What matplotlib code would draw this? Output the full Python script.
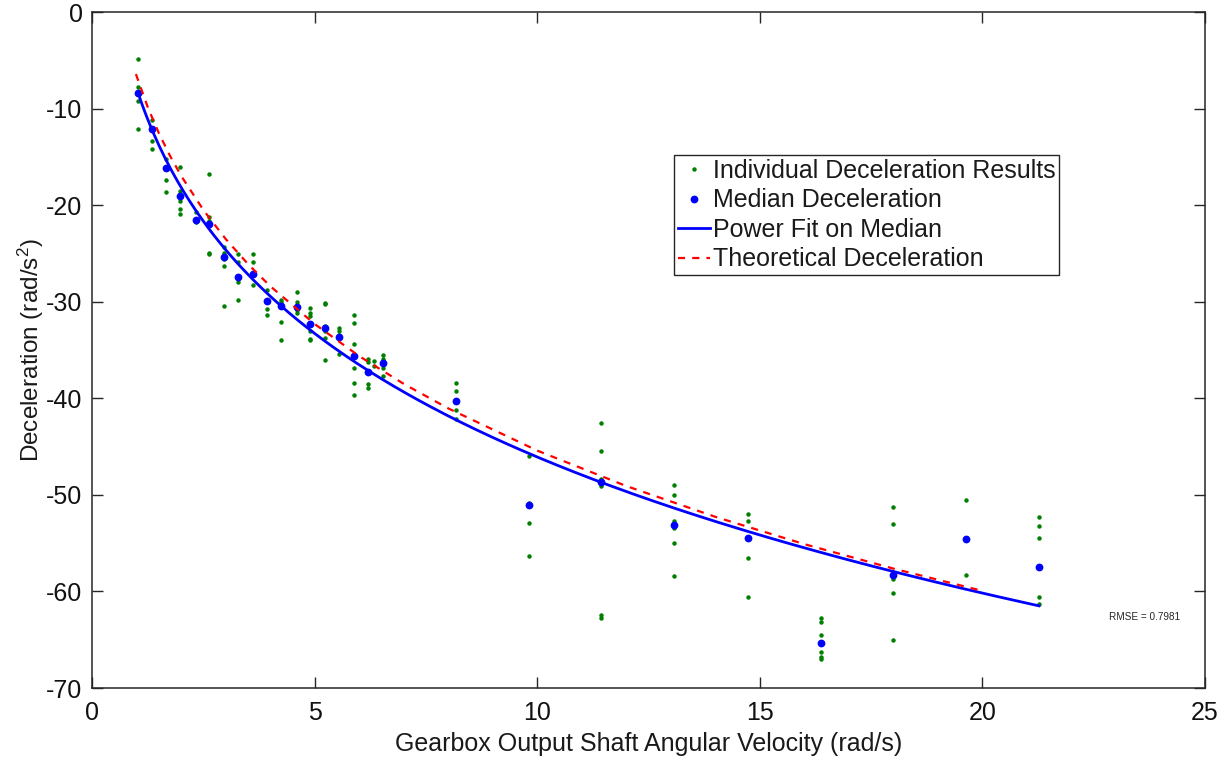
import numpy as np
import matplotlib
matplotlib.use("Agg")
import matplotlib.pyplot as plt

plt.rcParams['font.family'] = ['Liberation Sans', 'DejaVu Sans']
plt.rcParams['mathtext.fontset'] = 'custom'
plt.rcParams['mathtext.rm'] = 'Liberation Sans'
plt.rcParams['mathtext.it'] = 'Liberation Sans'
plt.rcParams['axes.unicode_minus'] = False

# ---- data ----
speed = [1.03, 1.34, 1.66, 1.98, 2.32, 2.63, 2.97, 3.28, 3.60, 3.93, 4.25, 4.59,
         4.90, 5.22, 5.55, 5.87, 6.20, 6.54, 8.18, 9.81, 11.44, 13.08, 14.73,
         16.37, 17.99, 19.63, 21.27]

median_decel = [-8.4, -12.1, -16.1, -19.05, -21.5, -21.9, -25.4, -27.4, -27.1,
                -29.9, -30.4, -30.5, -32.3, -32.7, -33.6, -35.6, -37.3, -36.3,
                -40.3, -51.0, -48.7, -53.1, -54.5, -65.3, -58.3, -54.6, -57.5]

individual_x = (
    [1.03] * 4 + [1.34] * 4 + [1.66] * 4 + [1.98] * 5 + [2.32] * 3 + [2.63] * 5 +
    [2.97] * 5 + [3.28] * 4 + [3.60] * 4 + [3.93] * 4 + [4.25] * 4 + [4.59] * 4 +
    [4.90] * 6 + [5.22] * 6 + [5.55] * 4 + [5.87] * 6 + [6.20] * 4 + [6.34] * 2 +
    [6.54] * 4 + [8.18] * 4 + [9.81] * 4 + [11.44] * 6 + [13.08] * 6 + [14.73] * 4 +
    [16.37] * 6 + [17.99] * 6 + [19.63] * 2 + [21.27] * 5
)
individual_y = [
    -4.8, -7.7, -9.2, -12.1,
    -11.2, -12.0, -13.3, -14.2,
    -15.2, -16.1, -17.4, -18.6,
    -16.0, -18.5, -19.6, -20.4, -20.9,
    -20.7, -21.4, -21.7,
    -16.8, -21.2, -21.6, -24.9, -25.0,
    -24.3, -24.9, -25.6, -26.3, -30.4,
    -25.0, -25.9, -27.9, -29.8,
    -25.0, -25.9, -27.0, -28.3,
    -28.8, -29.9, -30.7, -31.4,
    -29.8, -30.0, -32.1, -34.0,
    -29.0, -30.0, -30.8, -31.1,
    -30.6, -31.1, -31.5, -33.0, -33.8, -33.9,
    -30.1, -30.2, -32.5, -33.0, -33.7, -36.0,
    -32.7, -33.0, -33.4, -35.4,
    -31.4, -32.2, -34.4, -36.9, -38.4, -39.6,
    -35.9, -36.2, -38.5, -38.9,
    -36.1, -36.6,
    -35.5, -35.9, -36.8, -37.7,
    -38.4, -39.2, -41.2, -42.1,
    -46.0, -50.8, -52.9, -56.3,
    -42.5, -45.4, -48.4, -49.1, -62.4, -62.7,
    -49.0, -50.0, -52.7, -53.4, -55.0, -58.4,
    -52.0, -52.7, -56.5, -60.6,
    -62.8, -63.2, -64.5, -66.3, -66.8, -67.0,
    -51.2, -53.0, -58.0, -58.7, -60.2, -65.0,
    -50.5, -58.3,
    -52.3, -53.2, -54.5, -60.6, -61.3,
]

# power fit on median: y = a * x^b + c
fit_a, fit_b, fit_c = -100.2, 0.14, 92.24

theory_x = [0.98, 1.25, 1.5, 1.75, 2.0, 2.5, 3.0, 3.5, 4.0, 5.0, 6.0, 7.0, 8.0,
            10.0, 12.0, 14.0, 16.0, 18.0, 20.0]
theory_y = [-6.40, -9.88, -12.57, -14.90, -16.97, -20.51, -23.50, -26.09, -28.38,
            -32.31, -35.63, -38.50, -41.04, -45.41, -49.08, -52.27, -55.10, -57.63,
            -59.94]

rmse_text = "RMSE = 0.7981"

# ---- figure ----
W, H = 1227, 757
fig = plt.figure(figsize=(W / 100, H / 100), dpi=100)
ax = fig.add_axes([92.3 / W, 1 - 688 / H, (1205 - 92.3) / W, (688 - 12.3) / H])

ax.plot(individual_x, individual_y, linestyle='none', marker='o', markersize=2.2,
        color='#008000', label='Individual Deceleration Results')
ax.plot(speed, median_decel, linestyle='none', marker='o', markersize=4.6,
        color='#0000ff', label='Median Deceleration')
xf = np.linspace(min(speed), max(speed), 300)
ax.plot(xf, fit_a * xf ** fit_b + fit_c, color='#0000ff', lw=2.0,
        label='Power Fit on Median')
ax.plot(theory_x, theory_y, color='#ff0000', lw=1.6, linestyle=(0, (3.2, 3.2)),
        label='Theoretical Deceleration')

ax.set_xlim(0, 25)
ax.set_ylim(-70, 0)
ax.set_xticks([0, 5, 10, 15, 20, 25])
ax.set_yticks([-70, -60, -50, -40, -30, -20, -10, 0])

edge = '#262626'
for s in ax.spines.values():
    s.set_color(edge)
    s.set_linewidth(1.1)
ax.tick_params(direction='in', length=8, width=1.0, color=edge, labelcolor='#111111',
               labelsize=18, top=True, right=True)
ax.tick_params(axis='x', pad=9)
ax.tick_params(axis='y', pad=7)

ax.set_ylabel('Deceleration (rad/s$^2$)', fontsize=17.5, color='#1a1a1a')
ax.yaxis.set_label_coords(-0.042, 0.5)
fig.text((92.3 + 1205) / 2 / W, 6 / H, 'Gearbox Output Shaft Angular Velocity (rad/s)',
         ha='center', va='baseline', fontsize=18, color='#1a1a1a')

ax.text((1145 - 92.3) / (1205 - 92.3), (688 - 617) / (688 - 12.3),
        rmse_text, transform=ax.transAxes, ha='center', va='center', fontsize=7.2,
        color='#262626')

leg = ax.legend(loc='upper left', bbox_to_anchor=((674 - 92.3) / (1205 - 92.3),
                                                   (688 - 155) / (688 - 12.3)),
                borderaxespad=0, fontsize=18, frameon=True, fancybox=False,
                edgecolor='#262626', handlelength=1.3, handletextpad=0.1,
                labelspacing=0.22, borderpad=0.15, framealpha=1)
leg.get_frame().set_linewidth(1.0)
for t in leg.get_texts():
    t.set_color('#1a1a1a')

fig.savefig('out.png', dpi=100)
